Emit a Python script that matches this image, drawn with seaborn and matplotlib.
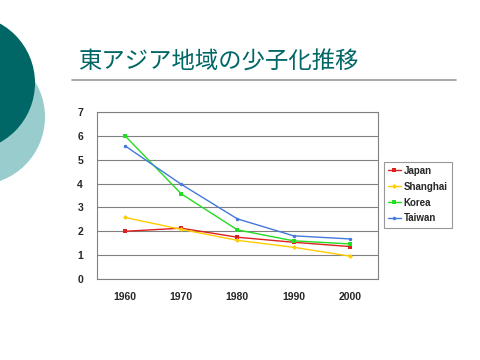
import pandas as pd
import seaborn as sns
import matplotlib.pyplot as plt
from matplotlib.patches import Circle

years = [1960, 1970, 1980, 1990, 2000]
japan = [2.00, 2.13, 1.75, 1.54, 1.36]
shanghai = [2.58, 2.08, 1.62, 1.33, 0.96]
korea = [6.00, 3.57, 2.06, 1.60, 1.47]
taiwan = [5.58, 3.97, 2.52, 1.81, 1.68]
series = ['Japan', 'Shanghai', 'Korea', 'Taiwan']
title = '東アジア地域の少子化推移'

df = pd.DataFrame({
    'year': years * 4,
    'rate': japan + shanghai + korea + taiwan,
    'region': [s for s in series for _ in years],
})

sns.set_style('white')
plt.rcParams['font.family'] = ['Liberation Sans', 'DejaVu Sans']

fig = plt.figure(figsize=(4.8, 3.6), dpi=100)

# slide decoration: two circles on the left edge
deco = fig.add_axes([0, 0, 1, 1])
deco.set_xlim(0, 480)
deco.set_ylim(360, 0)
deco.axis('off')
deco.add_patch(Circle((-23, 117), 68, color='#99cccc', lw=0))
deco.add_patch(Circle((-33, 83), 68, color='#006666', lw=0))
deco.plot([72, 456], [80, 80], color='#999999', lw=1.2)
deco.text(78, 62, title, fontsize=16.8, color='#006666',
          family=['Noto Sans CJK JP', 'DejaVu Sans'], va='center', ha='left')

ax = fig.add_axes([0.202, 0.225, 0.585, 0.464])
palette = {'Japan': '#dd2020', 'Shanghai': '#ffcc00', 'Korea': '#22dd22', 'Taiwan': '#4477dd'}
markers = {'Japan': 's', 'Shanghai': 'D', 'Korea': 's', 'Taiwan': 'o'}
sns.lineplot(data=df, x='year', y='rate', hue='region', style='region',
             palette=palette, markers=markers, dashes=False, linewidth=1.0,
             markersize=2.5, markeredgewidth=0, ax=ax)

ax.set_xlim(1955, 2005)
ax.set_ylim(0, 7)
ax.set_yticks(range(0, 8))
ax.set_xticks(years)
ax.set_xticks([1965, 1975, 1985, 1995], minor=True)
ax.tick_params(axis='x', which='major', length=0, pad=9)
ax.tick_params(axis='x', which='minor', direction='in', length=4, color='#808080', width=0.8)
ax.tick_params(axis='y', length=0, pad=10)
for lab in ax.get_xticklabels() + ax.get_yticklabels():
    lab.set_fontsize(7.5)
    lab.set_fontweight('bold')
ax.yaxis.grid(True, color='#808080', lw=0.8)
ax.set_xlabel('')
ax.set_ylabel('')
for sp in ax.spines.values():
    sp.set_color('#808080')
    sp.set_linewidth(0.8)

leg = ax.legend(loc='center left', bbox_to_anchor=(1.021, 0.505), fontsize=7,
                frameon=True, fancybox=False, handlelength=1.3, handletextpad=0.3,
                borderpad=0.45, labelspacing=0.6, borderaxespad=0)
leg.get_frame().set_edgecolor('#808080')
leg.get_frame().set_linewidth(0.8)
for t in leg.get_texts():
    t.set_fontweight('bold')

fig.savefig('out.png', dpi=100)
